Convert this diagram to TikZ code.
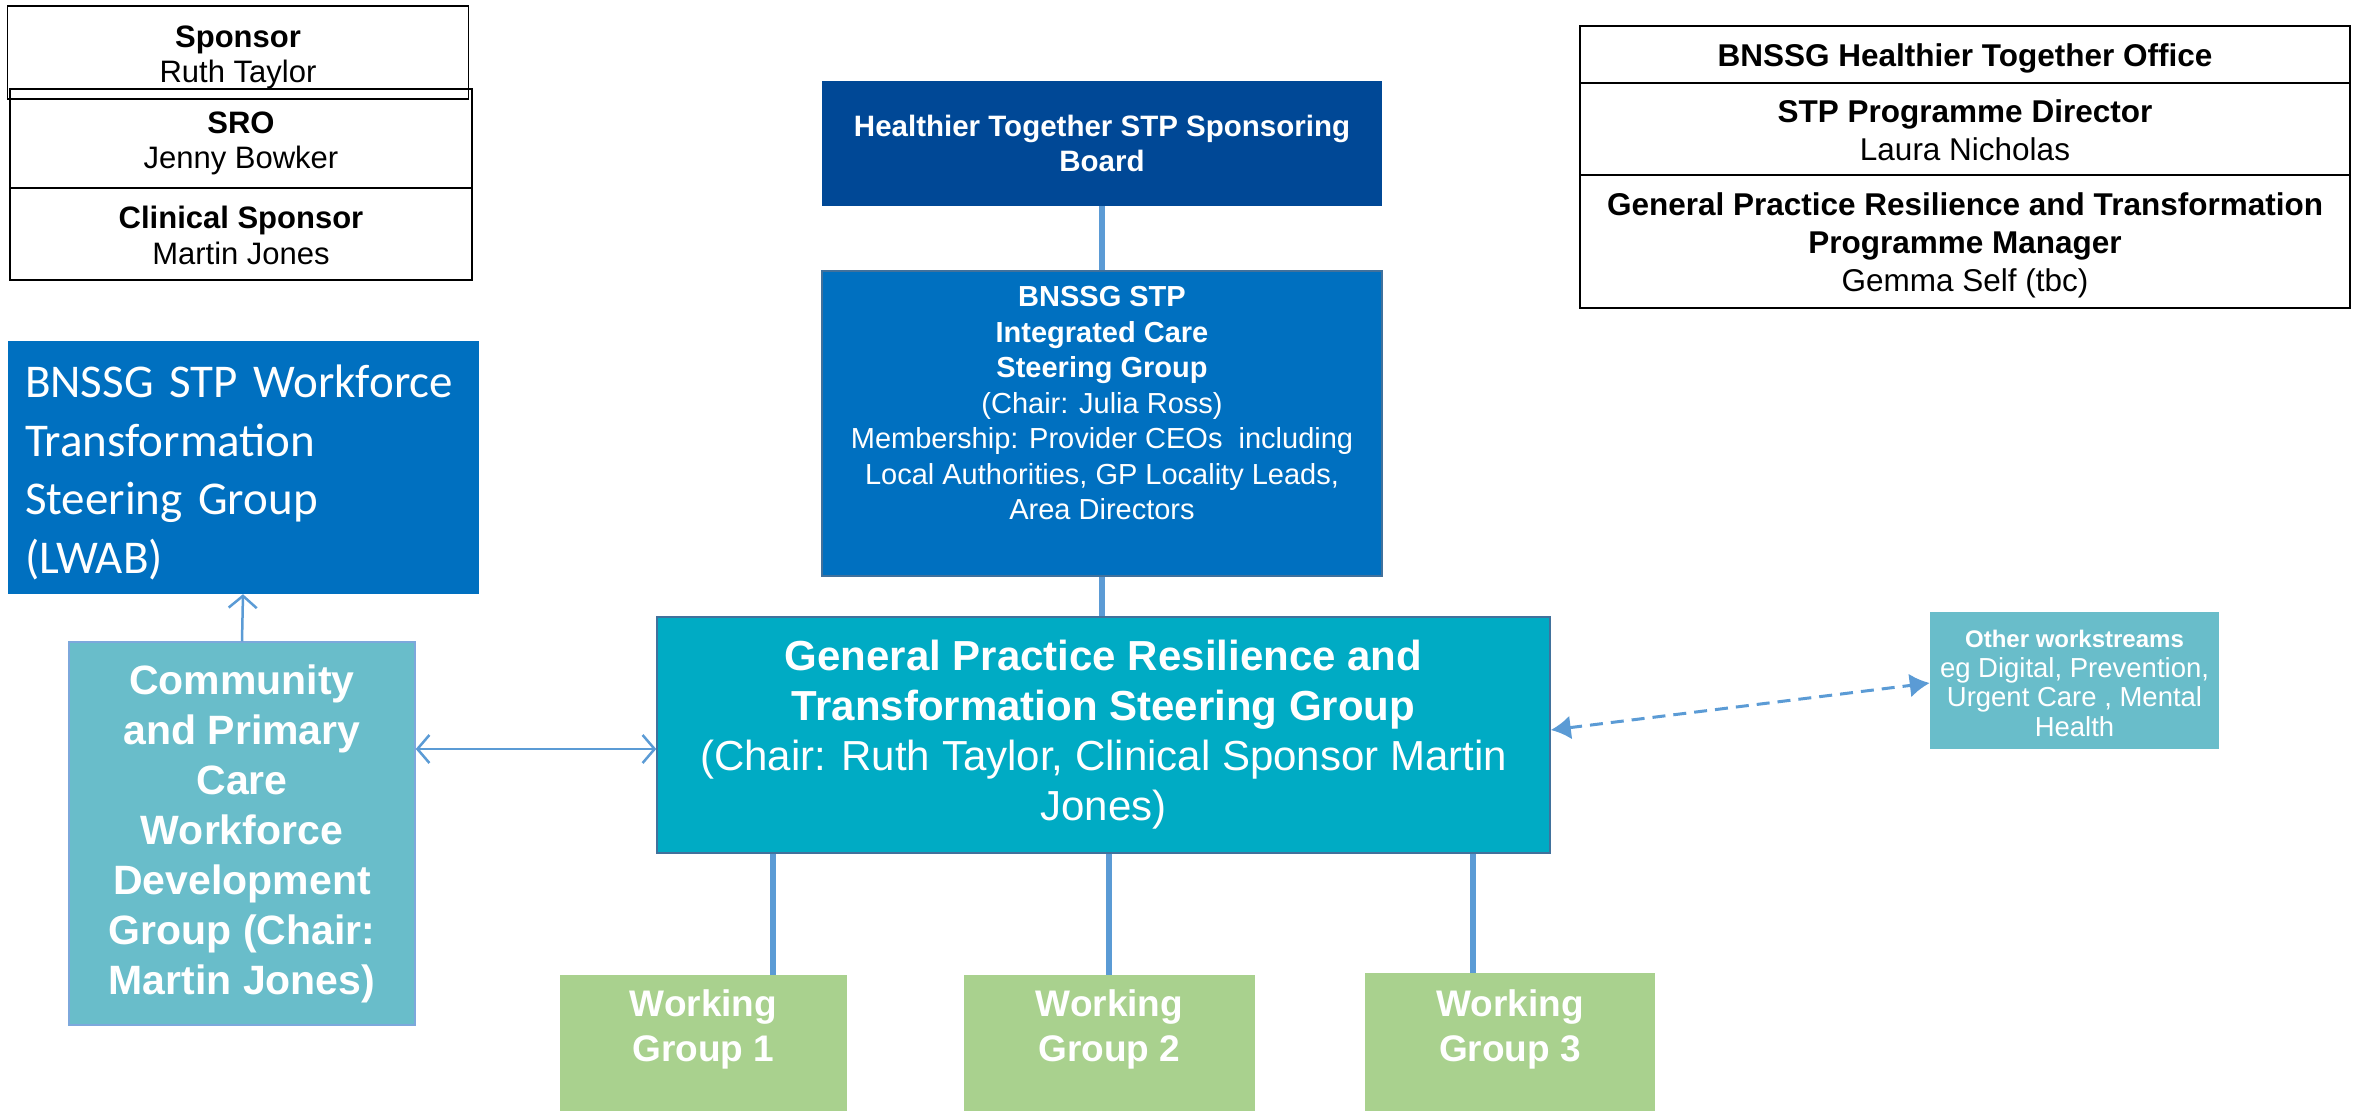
\documentclass[tikz,border=0pt]{standalone}
\usepackage{fontspec}
\setmainfont{Liberation Sans}
\newfontfamily\calibrifont{Carlito}
\usetikzlibrary{arrows.meta}

\definecolor{boardnavy}{RGB}{0,72,150}
\definecolor{stpblue}{RGB}{0,112,192}
\definecolor{gpteal}{RGB}{0,171,196}
\definecolor{paleteal}{RGB}{105,189,202}
\definecolor{leafgreen}{RGB}{169,209,142}
\definecolor{linkblue}{RGB}{91,155,213}
\definecolor{edgeblue}{RGB}{65,113,156}
\definecolor{paleedge}{RGB}{125,168,220}

% invisible strut that gives a first line its full ascender height
\newcommand\leadstrut[1][1em]{\rule{0pt}{#1}}

\tikzset{
  rolebox/.style={draw=black, line width=1.3pt, align=center, inner sep=0pt,
    font={\fontsize{31}{35.5}\selectfont}},
  officebox/.style={rolebox, minimum width=770pt,
    font={\fontsize{31.5}{38}\selectfont}},
  groupbox/.style={inner sep=0pt, align=center, text=white},
  connector/.style={draw=linkblue, line width=5.5pt},
  arrowline/.style={draw=linkblue, line width=2.5pt},
  barbtip/.tip={Straight Barb[length=12pt, width=28pt, line width=2.5pt]},
  solidtip/.tip={Latex[length=20pt, width=24pt]},
}

\begin{document}
\begin{tikzpicture}[x=1pt,y=-1pt]
\useasboundingbox (0,0) rectangle (2359,1111);

% ---- sponsor stack (top left)
\node[rolebox, minimum width=461pt, minimum height=93pt] (sponsor) at (238,52.5)
  {\leadstrut\textbf{Sponsor}\\Ruth Taylor};
\node[rolebox, minimum width=462pt, minimum height=99pt] (sro) at (241,138.5)
  {\leadstrut\textbf{SRO}\\Jenny Bowker};
\node[rolebox, minimum width=462pt, minimum height=92pt] (clin) at (241,234)
  {\leadstrut[0.8em]\textbf{Clinical Sponsor}\\Martin Jones};

% ---- office stack (top right)
\node[officebox, minimum height=57pt] (office) at (1965,54.5)
  {\leadstrut\textbf{BNSSG Healthier Together Office}};
\node[officebox, minimum height=92pt] (director) at (1965,129)
  {\leadstrut[0.8em]\textbf{STP Programme Director}\\Laura Nicholas};
\node[officebox, minimum height=133pt] (manager) at (1965,241.5)
  {\leadstrut\textbf{General Practice Resilience and Transformation}\\\textbf{Programme Manager}\\Gemma Self (tbc)};

% ---- governance spine
\node[groupbox, fill=boardnavy, minimum width=560pt, minimum height=125pt,
  font={\fontsize{29.5}{35}\selectfont\bfseries}] (board) at (1102,143.5)
  {Healthier Together STP Sponsoring\\Board};

\node[groupbox, fill=stpblue, draw=edgeblue, line width=1.5pt,
  minimum width=560pt, minimum height=305pt,
  label={[yshift=20pt, align=center, text=white,
          font={\fontsize{29}{35.5}\selectfont}]center:{\textbf{BNSSG STP}\\
          \textbf{Integrated Care}\\\textbf{Steering Group}\\(Chair: Julia Ross)\\
          Membership: Provider CEOs\ \ including\\Local Authorities, GP Locality Leads,\\
          Area Directors}}] (icsg) at (1102,423.5) {};

\node[groupbox, fill=gpteal, draw=edgeblue, line width=1.5pt,
  minimum width=893pt, minimum height=236pt,
  font={\fontsize{42}{50}\selectfont}] (gprt) at (1103.5,735)
  {\textbf{General Practice Resilience and}\\\textbf{Transformation Steering Group}\\
   (Chair: Ruth Taylor, Clinical Sponsor Martin\\Jones)};

% ---- workforce groups (left)
\node[groupbox, fill=stpblue, minimum width=471pt, minimum height=253pt,
  align=left, text width=436pt, inner xsep=17.5pt,
  font={\calibrifont\fontsize{47}{58.5}\selectfont}] (lwab) at (243,467.5)
  {\leadstrut[0.9em]BNSSG STP Workforce\\Transformation\\Steering Group\\(LWAB)};

\node[groupbox, fill=paleteal, draw=paleedge, line width=1.5pt,
  minimum width=346pt, minimum height=383pt,
  font={\fontsize{41}{50}\selectfont\bfseries}] (comm) at (242,833.5)
  {Community\\and Primary\\Care\\Workforce\\Development\\Group (Chair:\\Martin Jones)};

% ---- other workstreams (right)
\node[groupbox, fill=paleteal, minimum width=289pt, minimum height=137pt,
  font={\fontsize{27.5}{29.5}\selectfont}] (other) at (2074.5,680.5)
  {\leadstrut[23pt]{\fontsize{24}{29.5}\selectfont\bfseries Other workstreams}\\eg Digital, Prevention,\\Urgent Care , Mental\\Health};

% ---- working groups
\tikzset{wgbox/.style={groupbox, fill=leafgreen, minimum height=136pt,
  label={[yshift=14pt, align=center, text=white,
          font={\fontsize{37}{45}\selectfont\bfseries}]center:{Working\\Group #1}}}}
\node[wgbox=1, minimum width=287pt] (wg1) at (703.5,1043) {};
\node[wgbox=2, minimum width=291pt] (wg2) at (1109.5,1043) {};
\node[wgbox=3, minimum width=290pt, minimum height=140pt] (wg3) at (1510,1043) {};

% ---- connectors
\draw[connector] (board.south) -- (icsg.north);
\draw[connector] (icsg.south) -- (gprt.north -| icsg.south);

\coordinate (dropA) at (773,0);
\coordinate (dropB) at (1109,0);
\coordinate (dropC) at (1473,0);
\draw[connector] (gprt.south -| dropA) -- (wg1.north -| dropA);
\draw[connector] (gprt.south -| dropB) -- (wg2.north -| dropB);
\draw[connector] (gprt.south -| dropC) -- (wg3.north -| dropC);

\draw[arrowline, -barbtip] (comm.north) -- (lwab.south);

\coordinate (linkrow) at (0,749);
\draw[arrowline, barbtip-barbtip]
  (comm.east |- linkrow) -- (gprt.west |- linkrow);

\coordinate (dashL) at (0,730);
\coordinate (dashR) at (0,683);
\draw[arrowline, line width=3pt, dash pattern=on 13pt off 8pt, solidtip-solidtip]
  (gprt.east |- dashL) -- (other.west |- dashR);

\end{tikzpicture}
\end{document}
